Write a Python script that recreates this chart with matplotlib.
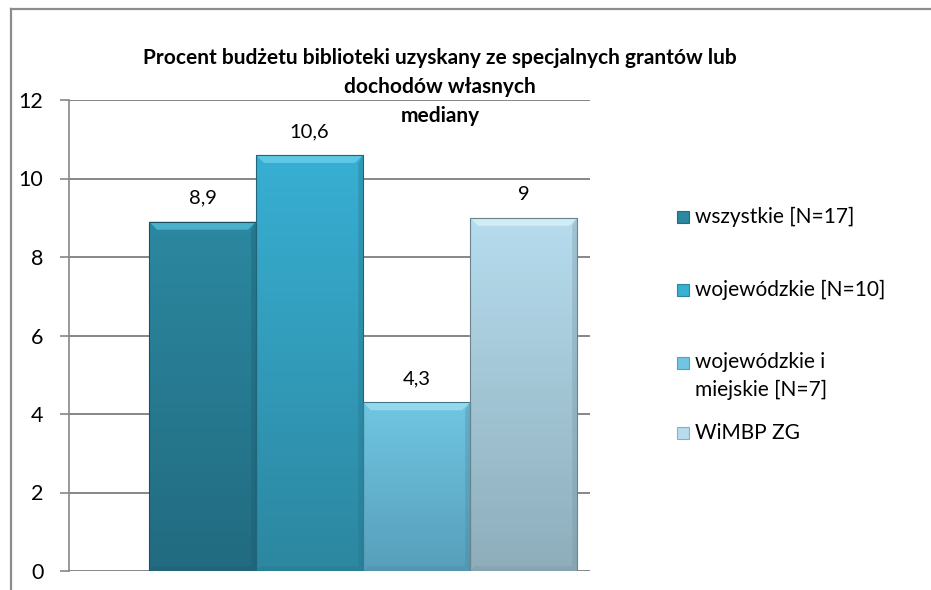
import numpy as np
import matplotlib
matplotlib.use("Agg")
import matplotlib.pyplot as plt
from matplotlib.patches import Rectangle, Polygon
from matplotlib.lines import Line2D
from matplotlib.colors import to_rgb

plt.rcParams['font.family'] = ['Lato', 'DejaVu Sans']

# ---- data ----
categories = ["wszystkie [N=17]", "wojewódzkie [N=10]", "wojewódzkie i\nmiejskie [N=7]", "WiMBP ZG"]
values = [8.9, 10.6, 4.3, 9.0]
value_labels = ["8,9", "10,6", "4,3", "9"]
yticks = [0, 2, 4, 6, 8, 10, 12]
title_lines = ["Procent budżetu biblioteki uzyskany ze specjalnych grantów lub",
               "dochodów własnych",
               "mediany"]

top_colors = ["#2b88a0", "#38afd3", "#70c6e2", "#b6dced"]
bot_colors = ["#226b80", "#2c87a0", "#579fbb", "#8eaebc"]
bevel_colors = ["#4db6d2", "#62cbe8", "#9adcf0", "#d4eef7"]

fig = plt.figure(figsize=(9.31, 5.90), dpi=100)
ax = fig.add_axes([69/931, 1-571/590, (590-69)/931, (571-100)/590])

ax.set_ylim(0, 12)
ax.set_xlim(-1.248, 3.621)
ax.set_yticks(yticks)
ax.set_yticklabels([str(t) for t in yticks], fontsize=15.5)
ax.tick_params(axis='y', length=6.5, width=1.2, color='#868686', pad=12)
ax.set_xticks([])
for s in ['top', 'right', 'bottom']:
    ax.spines[s].set_visible(False)
ax.spines['left'].set_color('#868686')
ax.spines['left'].set_linewidth(1.2)
ax.yaxis.grid(True, color='#868686', linewidth=1.4)
ax.set_axisbelow(True)

x = np.arange(len(values))
bars = ax.bar(x, values, width=1.0, color='none', edgecolor='none', zorder=3)
bx = 8/107
by = 8/39.25
for i, (b, v) in enumerate(zip(bars, values)):
    x0 = b.get_x(); w = b.get_width(); h = b.get_height()
    c1 = np.array(to_rgb(top_colors[i])); c2 = np.array(to_rgb(bot_colors[i]))
    t = np.linspace(0, 1, 100)[:, None]
    grad = (c1[None, :] * (1 - t) + c2[None, :] * t)[:, None, :]
    im = ax.imshow(grad, extent=[x0, x0 + w, 0, h], aspect='auto', zorder=3, origin='upper')
    im.set_clip_path(b)
    # bevel top
    ax.add_patch(Polygon([[x0, h], [x0 + w, h], [x0 + w - bx, h - by], [x0 + bx, h - by]],
                         closed=True, facecolor=bevel_colors[i], edgecolor='none', zorder=4, alpha=0.9))
    # darker sides
    dark = c2 * 0.85
    ax.add_patch(Polygon([[x0 + w, h], [x0 + w, 0], [x0 + w - bx * 0.6, by * 0.6], [x0 + w - bx * 0.6, h - by]],
                         closed=True, facecolor=dark, edgecolor='none', zorder=4, alpha=0.35))
    ax.add_patch(Polygon([[x0, 0], [x0 + w, 0], [x0 + w - bx * 0.6, by * 0.6], [x0 + bx * 0.6, by * 0.6]],
                         closed=True, facecolor=dark, edgecolor='none', zorder=4, alpha=0.35))
    ax.add_patch(Rectangle((x0, 0), w, h, facecolor='none', edgecolor=c2 * 0.75, linewidth=0.8, zorder=5))
    ax.annotate(value_labels[i], (x0 + w / 2, h), xytext=(0, 13), textcoords='offset points',
                ha='center', va='baseline', fontsize=14.5, color='black', zorder=6)

# title (three centred lines)
title_baselines = [64, 93, 122]
for line, yb in zip(title_lines, title_baselines):
    fig.text(440/931, 1-yb/590, line, ha='center', va='baseline', fontsize=15, fontweight='bold')

# legend (manual placement)
leg_y = [217, 290, 363, 433]
for i, lab in enumerate(categories):
    yc = leg_y[i]
    sq = 12
    fig.add_artist(Rectangle((677/931, 1-(yc+sq/2)/590), sq/931, sq/590, transform=fig.transFigure,
                             facecolor=top_colors[i], edgecolor=bot_colors[i], linewidth=0.8))
    if '\n' in lab:
        fig.text(695/931, 1-(yc-11)/590, lab, ha='left', va='top', fontsize=15, linespacing=1.5)
    else:
        fig.text(695/931, 1-yc/590, lab, ha='left', va='center', fontsize=15)

# figure border (top and left)
fig.add_artist(Line2D([11/931, 1], [1-9/590, 1-9/590], transform=fig.transFigure, color='#8c8c8c', linewidth=1.6))
fig.add_artist(Line2D([11/931, 11/931], [0, 1-9/590], transform=fig.transFigure, color='#8c8c8c', linewidth=1.6))

fig.savefig("out.png", dpi=100)
